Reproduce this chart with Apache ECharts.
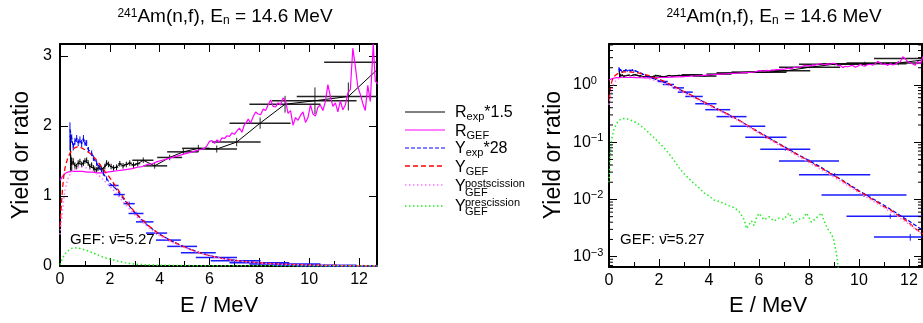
<!DOCTYPE html>
<html><head><meta charset="utf-8">
<script src="https://cdn.jsdelivr.net/npm/echarts@6/dist/echarts.min.js"></script>
<style>html,body{margin:0;padding:0;background:#fff}#c{width:923px;height:323px}</style>
</head><body><div id="c"></div>
<script>
// ---------------- data ----------------
// R_exp*1.5 : [E, value, Elow, Ehigh, error]
const rExp = [
 [0.42,1.62,0.40,0.44,0.26],[0.47,1.45,0.45,0.49,0.10],[0.53,1.49,0.50,0.56,0.05],
 [0.60,1.43,0.57,0.63,0.05],[0.67,1.42,0.64,0.70,0.04],[0.73,1.47,0.70,0.76,0.04],
 [0.80,1.49,0.77,0.83,0.04],[0.87,1.45,0.84,0.90,0.04],[0.94,1.47,0.91,0.97,0.04],
 [1.00,1.50,0.97,1.03,0.04],[1.07,1.51,1.04,1.10,0.04],[1.13,1.47,1.10,1.16,0.04],
 [1.20,1.42,1.17,1.23,0.04],[1.27,1.44,1.24,1.30,0.04],[1.34,1.40,1.31,1.37,0.04],
 [1.40,1.38,1.37,1.43,0.04],[1.47,1.37,1.44,1.50,0.04],[1.53,1.40,1.50,1.56,0.04],
 [1.60,1.42,1.57,1.63,0.04],[1.67,1.38,1.63,1.71,0.04],[1.74,1.37,1.70,1.78,0.04],
 [1.80,1.42,1.76,1.84,0.04],[1.87,1.47,1.83,1.91,0.04],[1.95,1.45,1.90,2.00,0.04],
 [2.05,1.42,2.00,2.10,0.04],[2.15,1.40,2.10,2.20,0.04],[2.27,1.41,2.20,2.34,0.04],
 [2.40,1.46,2.33,2.47,0.04],[2.53,1.43,2.46,2.60,0.04],[2.66,1.45,2.58,2.74,0.04],
 [2.80,1.47,2.72,2.88,0.04],[2.95,1.44,2.86,3.04,0.04],[3.12,1.46,3.02,3.22,0.04],
 [3.34,1.51,2.90,3.75,0.04],[3.80,1.43,3.35,4.30,0.04],[4.40,1.55,3.90,4.90,0.04],
 [4.95,1.63,4.30,5.55,0.04],[5.55,1.68,4.90,6.00,0.05],[6.29,1.67,5.55,7.10,0.05],
 [7.09,1.77,6.10,8.05,0.06],[8.03,2.04,6.80,9.25,0.08],[9.03,2.31,7.60,10.45,0.12],
 [10.23,2.36,8.50,11.90,0.19],[11.57,2.42,9.50,13.00,0.20],[13.05,2.91,10.60,15.50,0.30]
];
// R_GEF : [E, value]
const rGef = [
 [0.0,1.22],[0.1,1.28],[0.2,1.32],[0.3,1.34],[0.5,1.35],[0.7,1.35],[0.9,1.35],[1.1,1.34],
 [1.3,1.34],[1.5,1.33],[1.7,1.33],[1.9,1.34],[2.1,1.35],[2.3,1.36],[2.5,1.37],[2.7,1.38],
 [2.9,1.39],[3.1,1.41],[3.3,1.42],[3.5,1.45],[3.7,1.46],[3.9,1.49],[4.1,1.51],[4.3,1.53],
 [4.5,1.55],[4.7,1.57],[4.9,1.59],[5.0,1.60],[5.2,1.62],[5.4,1.64],[5.6,1.66],[5.8,1.68],
 [5.9,1.72],[6.0,1.78],[6.1,1.79],[6.2,1.75],[6.3,1.80],[6.4,1.77],[6.5,1.83],[6.6,1.82],
 [6.7,1.86],[6.8,1.85],[6.9,1.90],[7.0,1.88],[7.1,1.93],[7.2,1.97],[7.3,1.91],[7.4,2.02],
 [7.5,2.06],[7.55,2.10],[7.65,2.04],[7.75,2.13],[7.85,2.20],[7.95,2.17],[8.05,2.16],
 [8.15,2.24],[8.25,2.22],[8.35,2.30],[8.45,2.37],[8.55,2.28],[8.65,2.27],[8.75,2.33],
 [8.85,2.30],[8.95,2.40],[9.05,2.36],[9.15,2.18],[9.25,2.22],[9.35,2.01],[9.45,2.12],
 [9.55,2.08],[9.65,2.15],[9.75,2.20],[9.85,2.05],[9.95,2.12],[10.05,2.30],[10.15,2.17],
 [10.25,2.14],[10.35,2.27],[10.45,2.30],[10.55,2.22],[10.65,2.35],[10.75,2.59],[10.85,2.42],
 [10.95,2.28],[11.05,2.33],[11.15,2.20],[11.25,2.36],[11.35,2.23],[11.45,2.30],[11.55,2.47],
 [11.65,2.52],[11.75,3.11],[11.85,2.85],[11.95,2.56],[12.05,2.45],[12.15,2.32],[12.25,2.22],
 [12.35,2.58],[12.45,2.35],[12.57,3.17],[12.65,2.64],[12.75,2.60]
];
// Y_exp*28 low-energy points : [E, value, Elow, Ehigh, error]
const yExpPts = [
 [0.40,1.85,0.38,0.42,0.20],[0.47,1.82,0.45,0.49,0.06],[0.53,1.70,0.51,0.55,0.05],
 [0.60,1.78,0.58,0.62,0.05],[0.67,1.82,0.65,0.69,0.05],[0.73,1.76,0.71,0.75,0.05],
 [0.80,1.80,0.78,0.82,0.05],[0.87,1.75,0.85,0.89,0.05],[0.94,1.82,0.92,0.96,0.05],
 [1.00,1.76,0.98,1.02,0.04],[1.07,1.76,1.05,1.09,0.04],[1.14,1.66,1.12,1.16,0.04],
 [1.27,1.61,1.25,1.29,0.04],[1.34,1.54,1.32,1.36,0.04],[1.47,1.47,1.45,1.49,0.04],
 [1.60,1.40,1.58,1.62,0.03],[1.74,1.32,1.72,1.76,0.03],[1.87,1.25,1.85,1.89,0.03]
];
// Y_exp*28 binned : [Elow, Ehigh, value, error]
const yExpBins = [
 [1.95,2.35,1.15,0.03],[2.15,2.60,1.02,0.03],[2.55,3.00,0.89,0.03],[2.75,3.35,0.75,0.025],
 [3.05,3.75,0.63,0.02],[3.45,4.30,0.47,0.02],[3.85,4.85,0.37,0.015],[4.30,5.50,0.28,0.012],
 [4.85,6.25,0.19,0.01],[5.45,7.10,0.122,0.006],[6.05,8.05,0.075,0.004],[6.80,9.20,0.047,0.003],
 [7.60,10.45,0.027,0.002],[8.50,11.90,0.012,0.001],[9.50,13.00,0.0051,0.0005],[10.60,13.50,0.0022,0.0003]
];
// Y_exp*28 dashed curve : [E, value]
const yExpLine = [
 [0.40,1.95],[0.47,1.82],[0.53,1.70],[0.60,1.78],[0.67,1.82],[0.73,1.76],[0.80,1.80],[0.87,1.75],
 [0.94,1.82],[1.00,1.76],[1.07,1.76],[1.14,1.66],[1.27,1.61],[1.34,1.54],[1.47,1.47],[1.60,1.40],
 [1.74,1.32],[1.87,1.25],[2.0,1.18],[2.25,1.10],[2.5,0.98],[2.75,0.87],[3.0,0.76],[3.25,0.67],
 [3.5,0.585],[3.75,0.515],[4.0,0.452],[4.5,0.352],[5.0,0.272],[5.5,0.202],[6.0,0.150],[6.5,0.112],
 [7.0,0.084],[7.5,0.063],[8.0,0.048],[8.5,0.036],[9.0,0.0265],[9.5,0.0195],[10.0,0.0142],
 [10.5,0.0106],[11.0,0.0079],[11.5,0.0058],[12.0,0.0042],[12.5,0.0030],[12.75,0.0026]
];
// Y_GEF : [E, value]
const yGef = [
 [0,0.56],[0.05,0.85],[0.1,1.10],[0.15,1.28],[0.2,1.40],[0.3,1.53],[0.4,1.61],[0.5,1.66],
 [0.6,1.69],[0.7,1.70],[0.8,1.70],[0.9,1.68],[1.0,1.66],[1.2,1.61],[1.4,1.54],[1.6,1.45],
 [1.8,1.35],[2.0,1.26],[2.25,1.13],[2.5,1.00],[2.75,0.88],[3.0,0.77],[3.25,0.68],[3.5,0.59],
 [3.75,0.52],[4.0,0.45],[4.25,0.40],[4.5,0.35],[4.75,0.31],[5.0,0.27],[5.25,0.235],[5.5,0.202],
 [5.75,0.172],[6.0,0.148],[6.25,0.128],[6.5,0.110],[6.75,0.096],[7.0,0.083],[7.25,0.071],
 [7.5,0.062],[7.75,0.054],[8.0,0.047],[8.25,0.040],[8.5,0.035],[8.75,0.030],[9.0,0.026],
 [9.25,0.0225],[9.5,0.019],[9.75,0.0162],[10.0,0.0138],[10.25,0.0121],[10.5,0.0102],
 [10.75,0.0089],[11.0,0.0075],[11.25,0.0066],[11.5,0.0055],[11.75,0.0047],[12.0,0.0039],
 [12.25,0.0031],[12.5,0.0026],[12.75,0.0022]
];
// Y_GEF postscission : [E, value]
const yPost = [
 [0,0.45],[0.05,0.62],[0.1,0.80],[0.15,0.95],[0.2,1.08],[0.3,1.23],[0.4,1.31],[0.5,1.36],
 [0.6,1.39],[0.7,1.41],[0.8,1.42],[0.9,1.42],[1.0,1.41],[1.2,1.38],[1.4,1.34],[1.6,1.28],
 [1.8,1.21],[2.0,1.14],[2.25,1.04],[2.5,0.93],[2.75,0.83],[3.0,0.73],[3.25,0.645],[3.5,0.565],
 [3.75,0.497],[4.0,0.435],[4.5,0.338],[5.0,0.262],[5.5,0.196],[6.0,0.143],[6.5,0.106],
 [7.0,0.079],[7.5,0.059],[8.0,0.044],[8.5,0.033],[9.0,0.0245],[9.5,0.018],[10.0,0.0131],
 [10.5,0.0097],[11.0,0.0072],[11.5,0.0052],[12.0,0.0037],[12.5,0.0025],[12.75,0.0021]
];
// Y_GEF prescission : [E, value]
const yPre = [
 [0.0,0.02],[0.05,0.06],[0.1,0.11],[0.2,0.17],[0.3,0.21],[0.4,0.24],[0.5,0.255],[0.6,0.26],
 [0.7,0.258],[0.8,0.25],[1.0,0.23],[1.2,0.205],[1.4,0.175],[1.6,0.145],[1.8,0.12],[2.0,0.098],
 [2.2,0.08],[2.4,0.063],[2.6,0.048],[2.8,0.036],[3.0,0.028],[3.2,0.023],[3.4,0.019],[3.6,0.016],
 [3.8,0.013],[4.0,0.0115],[4.2,0.0098],[4.4,0.0092],[4.6,0.0085],[4.8,0.0078],[5.0,0.0072],
 [5.2,0.0062],[5.4,0.0045],[5.5,0.0031],[5.6,0.0036],[5.7,0.0042],[5.8,0.0035],[5.9,0.0048],
 [6.0,0.0057],[6.2,0.0044],[6.4,0.0050],[6.6,0.0042],[6.8,0.0047],[7.0,0.0045],[7.2,0.0058],
 [7.4,0.0038],[7.6,0.0045],[7.8,0.0048],[7.9,0.0058],[8.1,0.0040],[8.3,0.0048],[8.5,0.0058],
 [8.6,0.0042],[8.7,0.0034],[8.8,0.0028],[8.9,0.0025],[9.0,0.0019],[9.1,0.0011],[9.2,0.0005],
 [9.4,0],[12.75,0]
];
const xTicksLabels = [0,2,4,6,8,10,12];
const titleText = '{sup|241}{m|Am(n,f), E}{sub|n}{m| = 14.6 MeV}';
const gefText = 'GEF: \u03BD\u0304=5.27';

// ---------------- chart ----------------
const FF = 'Liberation Sans, Arial, sans-serif';
const C = {black:'#000000', bar:'#222222', mag:'#ff00ff', blue:'#0000ff', red:'#ff0000', pink:'#ff77ff', green:'#22ee22'};
const XMAX = [12.72, 12.52];
const YLIN = [0, 3.17];
const YLOG = [6.6e-4, 5.2];

function xAxesFor(g) {
  const base = {type:'value', gridIndex:g, min:0, max:XMAX[g], interval:2,
    axisLine:{show:true, onZero:false, lineStyle:{color:'#000', width:2}},
    axisTick:{show:true, inside:true, length:8, lineStyle:{color:'#000'}},
    minorTick:{show:true, splitNumber:2, length:5, lineStyle:{color:'#000'}},
    splitLine:{show:false}};
  return [
    Object.assign({}, base, {position:'bottom', axisLabel:{show:true, color:'#000', fontSize:16, fontFamily:FF, margin:6, showMaxLabel:false,
      formatter: v => xTicksLabels.includes(Math.round(v)) && Math.abs(v-Math.round(v))<1e-6 ? String(Math.round(v)) : ''}}),
    Object.assign({}, base, {position:'top', axisLabel:{show:false}})
  ];
}
const yLinBase = {type:'value', gridIndex:0, min:YLIN[0], max:YLIN[1], interval:1,
  axisLine:{show:true, onZero:false, lineStyle:{color:'#000', width:2}},
  axisTick:{show:true, inside:true, length:8, lineStyle:{color:'#000'}},
  splitLine:{show:false}};
const yLogBase = {type:'log', logBase:10, gridIndex:1, min:YLOG[0], max:YLOG[1],
  axisLine:{show:true, onZero:false, lineStyle:{color:'#000', width:2}},
  axisTick:{show:true, inside:true, length:8, lineStyle:{color:'#000'}},
  splitLine:{show:false}};

const yAxes = [
  Object.assign({}, yLinBase, {position:'left', axisLabel:{show:true, color:'#000', fontSize:16, fontFamily:FF, margin:8, showMaxLabel:false}}),
  Object.assign({}, yLinBase, {position:'right', axisLabel:{show:false}}),
  Object.assign({}, yLogBase, {position:'left', axisLabel:{show:true, color:'#000', fontFamily:FF, margin:36, align:'left',
     showMinLabel:false, showMaxLabel:false,
     formatter: v => { const e = Math.round(Math.log10(v)); return '{b|10}{s|' + (e<0 ? '\u2212'+(-e) : e) + '}'; },
     rich:{b:{fontSize:16, fontFamily:FF, color:'#000'}, s:{fontSize:11, fontFamily:FF, color:'#000', verticalAlign:'top', padding:[0,0,8,0]}}}}),
  Object.assign({}, yLogBase, {position:'right', axisLabel:{show:false}})
];

function errRenderer(color, hw, logY) {
  return function(params, api) {
    const cs = params.coordSys;
    const L = cs.x, R = cs.x + cs.width, T = cs.y, B = cs.y + cs.height;
    const xc = api.value(0), y = api.value(1), lo = api.value(2), hi = api.value(3), e = api.value(4);
    const kids = [];
    const a = api.coord([lo, y]), b = api.coord([hi, y]);
    if (a[1] >= T && a[1] <= B) {
      const x1 = Math.max(a[0], L), x2 = Math.min(b[0], R);
      if (x2 > x1) kids.push({type:'line', shape:{x1:x1, y1:a[1], x2:x2, y2:a[1]}, style:{stroke:color, lineWidth:hw}});
    }
    const top = api.coord([xc, y + e]);
    const bot = api.coord([xc, logY ? Math.max(y - e, y * 0.1) : y - e]);
    if (top[0] >= L && top[0] <= R) {
      const y1 = Math.max(top[1], T), y2 = Math.min(bot[1], B);
      if (y2 > y1) kids.push({type:'line', shape:{x1:top[0], y1:y1, x2:top[0], y2:y2}, style:{stroke:color, lineWidth:1}});
    }
    return {type:'group', children:kids};
  };
}
function minorLogTicks(params, api) {
  const cs = params.coordSys;
  const p = api.coord([0, api.value(0)]);
  if (p[1] < cs.y || p[1] > cs.y + cs.height) return {type:'group', children:[]};
  return {type:'group', children:[
    {type:'line', shape:{x1:cs.x, y1:p[1], x2:cs.x+4, y2:p[1]}, style:{stroke:'#000', lineWidth:1}},
    {type:'line', shape:{x1:cs.x+cs.width-4, y1:p[1], x2:cs.x+cs.width, y2:p[1]}, style:{stroke:'#000', lineWidth:1}}
  ]};
}

const pos = v => v[1] > 0;
function seriesFor(g) {
  const xi = g * 2, yi = g * 2, logY = g === 1;
  const f = arr => logY ? arr.filter(pos) : arr;
  const s = [];
  const line = (data, color, type, width, z) => ({type:'line', xAxisIndex:xi, yAxisIndex:yi, data:f(data), symbol:'none',
    lineStyle:{color:color, width:width, type:type}, clip:true, silent:true, z:z});
  s.push({type:'custom', xAxisIndex:xi, yAxisIndex:yi, data:rExp.filter(r=>r[3]-r[2]>0.3), renderItem:errRenderer(C.bar, 1.5, logY), silent:true, z:2});
  s.push({type:'custom', xAxisIndex:xi, yAxisIndex:yi, data:rExp.filter(r=>r[3]-r[2]<=0.3), renderItem:errRenderer(C.black, 1, logY), silent:true, z:2});
  s.push(line(rExp.map(r=>[r[0], r[1]]), C.black, 'solid', 1, 3));
  s.push(line(rGef, C.mag, 'solid', 1.2, 4));
  s.push({type:'custom', xAxisIndex:xi, yAxisIndex:yi, data:yExpBins.map(b=>[(b[0]+b[1])/2, b[2], b[0], b[1], b[3]]), renderItem:errRenderer('#1a1aff', 1.5, logY), silent:true, z:5});
  s.push({type:'custom', xAxisIndex:xi, yAxisIndex:yi, data:yExpPts, renderItem:errRenderer(C.blue, 1, logY), silent:true, z:5});
  s.push(line(yExpLine, C.blue, [4,2], 1.2, 6));
  s.push(line(yGef, C.red, [5,3], 1.3, 7));
  s.push(line(yPost, C.pink, [1.5,2.5], 1.5, 8));
  s.push(line(yPre, C.green, [1.5,2.5], 1.5, 9));
  if (logY) {
    const mt = [];
    for (let d = -4; d <= 0; d++) for (let k = 2; k <= 9; k++) { const v = k * Math.pow(10, d); if (v > YLOG[0] && v < YLOG[1]) mt.push([v]); }
    s.push({type:'custom', xAxisIndex:xi, yAxisIndex:yi, data:mt, encode:{y:0}, renderItem:minorLogTicks, silent:true, z:10});
  }
  return s;
}

const txt = (x, y, text, size, extra) => ({type:'text', x:x, y:y, silent:true, z:100,
  style:Object.assign({text:text, fill:'#000', font:size + 'px ' + FF, textAlign:'left', textVerticalAlign:'middle'}, extra || {})});
const titleRich = {m:{fontSize:19, fontFamily:FF, color:'#000'}, sup:{fontSize:12, fontFamily:FF, color:'#000', verticalAlign:'top'},
  sub:{fontSize:12, fontFamily:FF, color:'#000', verticalAlign:'bottom'}};
const legRich = {m:{fontSize:16, fontFamily:FF, color:'#000'}, s:{fontSize:11, fontFamily:FF, color:'#000', verticalAlign:'bottom', padding:[8,0,0,0]}};

const graphics = [
  {type:'text', x:225, y:17, silent:true, style:{text:titleText, rich:titleRich, textAlign:'center', textVerticalAlign:'middle', fill:'#000'}},
  {type:'text', x:774, y:17, silent:true, style:{text:titleText, rich:titleRich, textAlign:'center', textVerticalAlign:'middle', fill:'#000'}},
  {type:'text', x:22, y:155, rotation:Math.PI/2, silent:true, style:{text:'Yield or ratio', font:'23px '+FF, fill:'#000', textAlign:'center', textVerticalAlign:'middle'}},
  {type:'text', x:554, y:155, rotation:Math.PI/2, silent:true, style:{text:'Yield or ratio', font:'23px '+FF, fill:'#000', textAlign:'center', textVerticalAlign:'middle'}},
  txt(219, 306, 'E / MeV', 22, {textAlign:'center'}),
  txt(768, 306, 'E / MeV', 22, {textAlign:'center'}),
  txt(70, 240, gefText, 15),
  txt(620, 240, gefText, 15),
  // legend lines
  {type:'line', shape:{x1:405, y1:112, x2:445, y2:112}, style:{stroke:C.black, lineWidth:1}},
  {type:'line', shape:{x1:405, y1:130, x2:445, y2:130}, style:{stroke:C.mag, lineWidth:1.2}},
  {type:'line', shape:{x1:405, y1:148, x2:445, y2:148}, style:{stroke:C.blue, lineWidth:1.2, lineDash:[4,2]}},
  {type:'line', shape:{x1:405, y1:166, x2:445, y2:166}, style:{stroke:C.red, lineWidth:1.3, lineDash:[5,3]}},
  {type:'line', shape:{x1:405, y1:185, x2:445, y2:185}, style:{stroke:C.pink, lineWidth:1.5, lineDash:[1.5,2.5]}},
  {type:'line', shape:{x1:405, y1:206, x2:445, y2:206}, style:{stroke:C.green, lineWidth:1.5, lineDash:[1.5,2.5]}},
  // legend texts
  {type:'text', x:455, y:113, silent:true, style:{text:'{m|R}{s|exp}{m|*1.5}', rich:legRich, textVerticalAlign:'middle'}},
  {type:'text', x:455, y:132, silent:true, style:{text:'{m|R}{s|GEF}', rich:legRich, textVerticalAlign:'middle'}},
  {type:'text', x:455, y:149, silent:true, style:{text:'{m|Y}{s|exp}{m|*28}', rich:legRich, textVerticalAlign:'middle'}},
  {type:'text', x:455, y:168, silent:true, style:{text:'{m|Y}{s|GEF}', rich:legRich, textVerticalAlign:'middle'}},
  txt(455, 187, 'Y', 16),
  txt(465, 184, 'postscission', 11),
  txt(465, 193, 'GEF', 11),
  txt(455, 207, 'Y', 16),
  txt(465, 203, 'prescission', 11),
  txt(465, 212, 'GEF', 11)
];

const chart = echarts.init(document.getElementById('c'), null, {renderer:'canvas'});
chart.setOption({
  animation:false,
  backgroundColor:'#fff',
  grid:[{left:60, top:44, width:317, height:222}, {left:609, top:44, width:313, height:223}],
  xAxis:[...xAxesFor(0), ...xAxesFor(1)],
  yAxis:yAxes,
  series:[...seriesFor(0), ...seriesFor(1)],
  graphic:graphics
});
</script></body></html>
